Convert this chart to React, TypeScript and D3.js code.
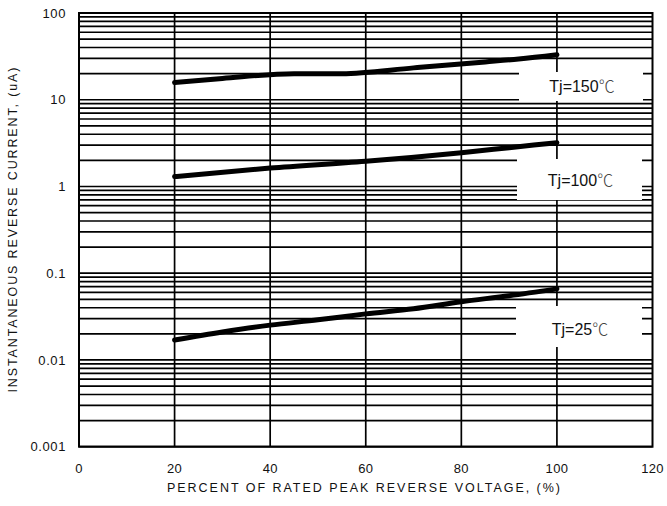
import React from "react";
import * as d3 from "d3";

const xTicks = [0, 20, 40, 60, 80, 100, 120];
const yTicks = [0.001, 0.01, 0.1, 1, 10, 100];
const yTickLabels = ["0.001", "0.01", "0.1", "1", "10", "100"];
const gridX = [20, 40, 60, 80, 100];

const pct150 = [20, 30, 45, 55, 70, 85, 92, 100];
const cur150 = [15.8, 17.6, 20, 20, 23.3, 27.3, 29.5, 33];
const pct100 = [20, 40, 60, 80, 90, 100];
const cur100 = [1.3, 1.63, 1.95, 2.45, 2.8, 3.2];
const pct25 = [20, 30, 40, 50, 60, 70, 80, 90, 100];
const cur25 = [0.017, 0.021, 0.0252, 0.029, 0.034, 0.039, 0.047, 0.055, 0.066];

const labels = ["Tj=150", "Tj=100", "Tj=25"];
const unit = "℃";

const W = 667, H = 506;
const L = 79, R = 652.5, T = 13, B = 446.7;

export default function App() {
  const x = d3.scaleLinear().domain([0, 120]).range([L, R]);
  const y = d3.scaleLog().domain([0.001, 100]).range([B, T]);
  const line = d3
    .line<[number, number]>()
    .x((d) => x(d[0]))
    .y((d) => y(d[1]))
    .curve(d3.curveMonotoneX);

  const minor: number[] = [];
  for (let e = -3; e <= 1; e++) {
    for (let k = 1; k <= 9; k++) minor.push(k * Math.pow(10, e));
  }
  minor.push(100);

  const series = [
    { p: pct150, c: cur150 },
    { p: pct100, c: cur100 },
    { p: pct25, c: cur25 },
  ];

  const boxes = [
    { x0: 519, x1: 643, y0: 72, y1: 101, ty: 86 },
    { x0: 517, x1: 642, y0: 159, y1: 200, ty: 180 },
    { x0: 516, x1: 642, y0: 306, y1: 347, ty: 329 },
  ];

  const font = "'Liberation Sans', Arial, sans-serif";

  return (
    <svg width={W} height={H} style={{ display: "block", position: "absolute", left: 0, top: 0 }} fontFamily={font}>
      <rect x={0} y={0} width={W} height={H} fill="#fff" />
      {minor.map((v, i) => (
        <line key={"h" + i} x1={L} x2={R} y1={y(v)} y2={y(v)} stroke="#000" strokeWidth={1.7} />
      ))}
      {gridX.map((v) => (
        <line key={"v" + v} x1={x(v)} x2={x(v)} y1={T} y2={B} stroke="#000" strokeWidth={1.7} />
      ))}
      <rect x={L} y={T} width={R - L} height={B - T} fill="none" stroke="#000" strokeWidth={2} />
      {series.map((s, i) => (
        <path
          key={"s" + i}
          d={line(s.p.map((p, j) => [p, s.c[j]] as [number, number])) || ""}
          fill="none"
          stroke="#000"
          strokeWidth={5}
          strokeLinecap="round"
        />
      ))}
      {boxes.map((b, i) => (
        <g key={"b" + i}>
          <rect x={b.x0} y={b.y0} width={b.x1 - b.x0} height={b.y1 - b.y0} fill="#fff" />
          <text x={(b.x0 + b.x1) / 2 + 1} y={b.ty} dy="0.35em" textAnchor="middle" fontSize={16} fill="#111">
            {labels[i]}
            <tspan fontFamily="'Noto Sans CJK SC', sans-serif" fontWeight={300} fill="#444">
              {unit}
            </tspan>
          </text>
        </g>
      ))}
      {yTicks.map((v, i) => (
        <text key={"yt" + i} x={66} y={y(v)} dy="0.35em" textAnchor="end" fontSize={13} letterSpacing={0.6} fill="#111">
          {yTickLabels[i]}
        </text>
      ))}
      {xTicks.map((v) => (
        <text key={"xt" + v} x={x(v)} y={468} dy="0.35em" textAnchor="middle" fontSize={13} letterSpacing={0.3} fill="#111">
          {v}
        </text>
      ))}
      <text x={363.5} y={488} dy="0.35em" textAnchor="middle" fontSize={12.5} textLength={393} lengthAdjust="spacing" fill="#111">
        PERCENT OF RATED PEAK REVERSE VOLTAGE, (%)
      </text>
      <text
        transform={`translate(13,230) rotate(-90)`}
        x={0}
        y={0}
        dy="0.35em"
        textAnchor="middle"
        fontSize={12.5}
        textLength={325}
        lengthAdjust="spacing"
        fill="#111"
      >
        INSTANTANEOUS REVERSE CURRENT, (uA)
      </text>
    </svg>
  );
}
